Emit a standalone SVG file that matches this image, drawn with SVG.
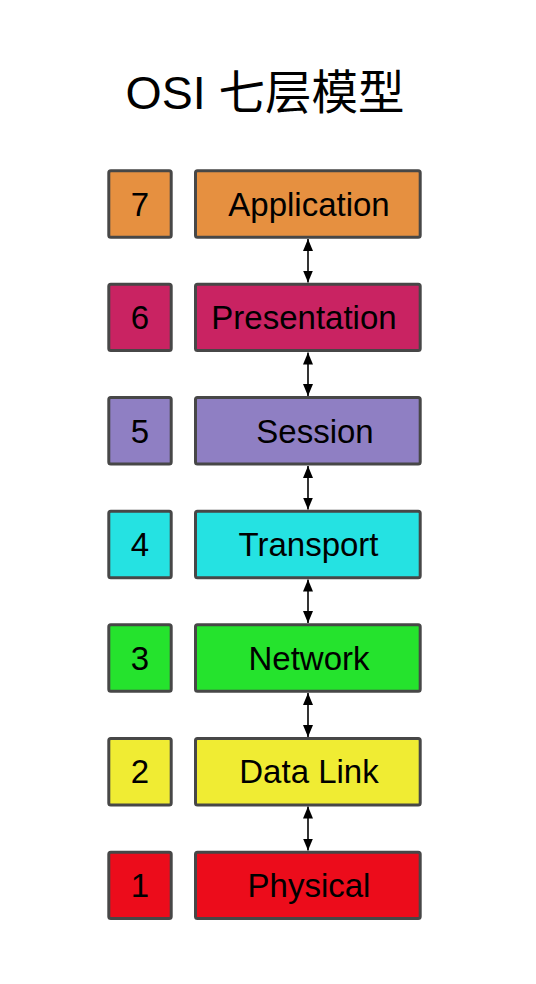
<svg xmlns="http://www.w3.org/2000/svg" width="536" height="984" viewBox="0 0 536 984">
<defs>
<style>
.box{stroke:#474747;stroke-width:3}
.t{font-family:"Liberation Sans",Arial,sans-serif;font-size:33px;fill:#000;text-anchor:middle}
.title{font-family:"Liberation Sans","Noto Sans CJK SC",sans-serif;font-size:46.5px;fill:#000;text-anchor:middle}
.conn{stroke:#000;stroke-width:1.6;fill:none;marker-start:url(#ah);marker-end:url(#ah)}
</style>
<marker id="ah" viewBox="0 0 12 10" refX="12" refY="5" markerWidth="12" markerHeight="10" markerUnits="userSpaceOnUse" orient="auto-start-reverse">
<path d="M0,0 L12,5 L0,10 Z" fill="#000"/>
</marker>
</defs>
<rect width="536" height="984" fill="#fff"/>
<text class="title" x="265" y="109">OSI 七层模型</text>
<g id="connectors">
<line class="conn" x1="308" y1="239" x2="308" y2="282.5"/>
<line class="conn" x1="308" y1="352.5" x2="308" y2="396"/>
<line class="conn" x1="308" y1="466" x2="308" y2="509.5"/>
<line class="conn" x1="308" y1="579.5" x2="308" y2="623"/>
<line class="conn" x1="308" y1="693" x2="308" y2="737"/>
<line class="conn" x1="308" y1="806.5" x2="308" y2="850.5"/>
</g>
<g id="layer7">
<rect class="box" x="108.8" y="170.8" width="62.4" height="66.4" rx="2" fill="#E69040"/>
<text class="t" x="140" y="215.5">7</text>
<rect class="box" x="195.5" y="170.8" width="224.7" height="66.4" rx="2" fill="#E69040"/>
<text class="t" x="309" y="215.5">Application</text>
</g>
<g id="layer6">
<rect class="box" x="108.8" y="284.2" width="62.4" height="66.4" rx="2" fill="#C92362"/>
<text class="t" x="140" y="329">6</text>
<rect class="box" x="195.5" y="284.2" width="224.7" height="66.4" rx="2" fill="#C92362"/>
<text class="t" x="304" y="329">Presentation</text>
</g>
<g id="layer5">
<rect class="box" x="108.8" y="397.6" width="62.4" height="66.4" rx="2" fill="#8F7FC3"/>
<text class="t" x="140" y="442.5">5</text>
<rect class="box" x="195.5" y="397.6" width="224.7" height="66.4" rx="2" fill="#8F7FC3"/>
<text class="t" x="315" y="442.5">Session</text>
</g>
<g id="layer4">
<rect class="box" x="108.8" y="511.3" width="62.4" height="66.4" rx="2" fill="#25E2E2"/>
<text class="t" x="140" y="556">4</text>
<rect class="box" x="195.5" y="511.3" width="224.7" height="66.4" rx="2" fill="#25E2E2"/>
<text class="t" x="308.5" y="556">Transport</text>
</g>
<g id="layer3">
<rect class="box" x="108.8" y="624.8" width="62.4" height="66.4" rx="2" fill="#25E32D"/>
<text class="t" x="140" y="669.5">3</text>
<rect class="box" x="195.5" y="624.8" width="224.7" height="66.4" rx="2" fill="#25E32D"/>
<text class="t" x="309" y="669.5">Network</text>
</g>
<g id="layer2">
<rect class="box" x="108.8" y="738.6" width="62.4" height="66.4" rx="2" fill="#F0EC33"/>
<text class="t" x="140" y="783.3">2</text>
<rect class="box" x="195.5" y="738.6" width="224.7" height="66.4" rx="2" fill="#F0EC33"/>
<text class="t" x="309" y="783.3">Data Link</text>
</g>
<g id="layer1">
<rect class="box" x="108.8" y="852.2" width="62.4" height="66.4" rx="2" fill="#EC0C1B"/>
<text class="t" x="140" y="897">1</text>
<rect class="box" x="195.5" y="852.2" width="224.7" height="66.4" rx="2" fill="#EC0C1B"/>
<text class="t" x="309" y="897">Physical</text>
</g>
</svg>
